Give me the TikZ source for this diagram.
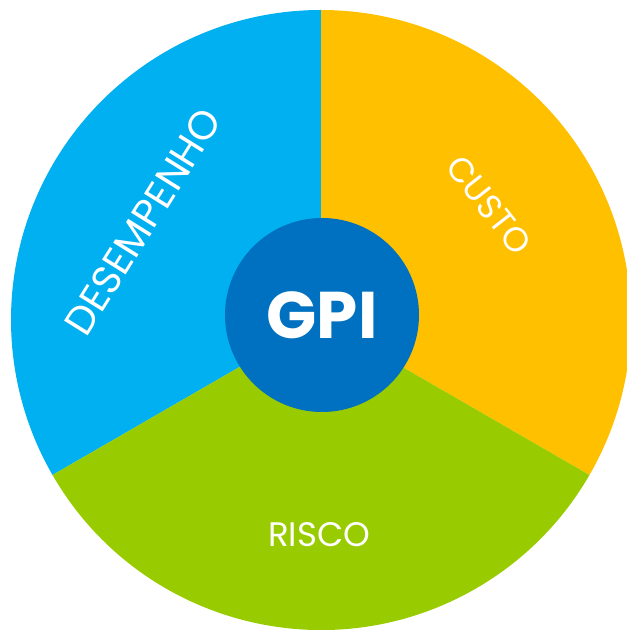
\documentclass[tikz,border=0pt]{standalone}
\usepackage{fontspec}
\setmainfont{Poppins}
\definecolor{cblue}{HTML}{00B0F0}
\definecolor{cyellow}{HTML}{FFC000}
\definecolor{cgreen}{HTML}{99CC00}
\definecolor{cdark}{HTML}{0070C0}
\begin{document}
\begin{tikzpicture}[x=1pt,y=1pt,
  lbl/.style={text=white,font=\fontsize{34}{38}\selectfont,inner sep=0pt}]
\useasboundingbox (0,0) rectangle (627,630);
\coordinate (c) at (321,310);
\fill[cblue] (c) -- ++(90:310) arc[start angle=90,end angle=210,radius=310] -- cycle;
\fill[cyellow] (c) -- ++(-30:310) arc[start angle=-30,end angle=90,radius=310] -- cycle;
\fill[cgreen] (c) -- ++(210:310) arc[start angle=210,end angle=330,radius=310] -- cycle;
\node[circle,fill=cdark,minimum size=194pt,inner sep=0pt,text=white,
  font=\fontsize{66}{70}\selectfont\bfseries] (gpi) at (322,315) {GPI};
\node[lbl,rotate=58,font=\fontsize{40}{44}\selectfont] (des) at (143,408) {DESEMPENHO};
\node[lbl,rotate=-52] (custo) at (489,425) {CUSTO};
\node[lbl] (risco) at (319,95) {RISCO};
\end{tikzpicture}
\end{document}
